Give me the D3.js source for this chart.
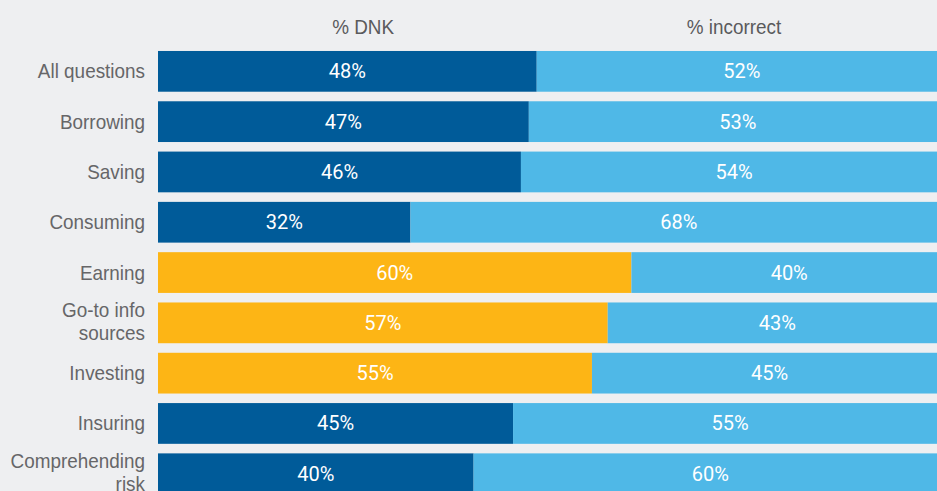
<!DOCTYPE html>
<html>
<head>
<meta charset="utf-8">
<script src="https://cdn.jsdelivr.net/npm/d3@7"></script>
<style>
  html, body { margin: 0; padding: 0; background: #eeeff1; overflow: hidden; }
  svg { display: block; }
  text { font-family: "Liberation Sans", Arial, sans-serif; }
  text.value { font-family: Roboto, "Liberation Sans", sans-serif; }
</style>
</head>
<body>
<svg id="chart" width="937" height="491"></svg>
<script>
// Share of wrong answers by topic, split into "don't know" vs. incorrect
const categories = [
  ["All questions"],
  ["Borrowing"],
  ["Saving"],
  ["Consuming"],
  ["Earning"],
  ["Go-to info", "sources"],
  ["Investing"],
  ["Insuring"],
  ["Comprehending", "risk"]
];
const dnkValues       = [48, 47, 46, 32, 60, 57, 55, 45, 40];
const incorrectValues = [52, 53, 54, 68, 40, 43, 45, 55, 60];
// rows where "don't know" outweighs incorrect answers are highlighted
const highlighted     = [false, false, false, false, true, true, true, false, false];
const seriesLabels    = ["% DNK", "% incorrect"];

const svg = d3.select("#chart");

const colDark = "#005b99", colLight = "#4fb8e7", colHi = "#fdb515";
const narrow = 0.9;   // horizontal squeeze for a condensed look

const x = d3.scaleLinear().domain([0, 100]).range([158, 947]);
const y = d3.scaleBand()
  .domain(d3.range(categories.length))
  .range([46.2, 498.9])
  .paddingInner(0.19)
  .paddingOuter(0.095);

const rows = categories.map((c, i) => ({
  i, lines: c, dnk: dnkValues[i], inc: incorrectValues[i], hi: highlighted[i]
}));

const place = (px, py, s) => `translate(${px},${py}) scale(${s},1)`;

// column headers
svg.selectAll("text.header")
  .data(seriesLabels)
  .join("text")
  .attr("class", "header")
  .attr("transform", (d, i) => place(i === 0 ? x(26) : x(73), 34, narrow))
  .attr("text-anchor", "middle")
  .attr("fill", "#5a5a5c")
  .attr("font-size", 21)
  .text(d => d);

const g = svg.selectAll("g.row")
  .data(rows)
  .join("g")
  .attr("class", "row");

// DNK segment
g.append("rect")
  .attr("x", x(0))
  .attr("y", d => y(d.i))
  .attr("width", d => x(d.dnk) - x(0))
  .attr("height", y.bandwidth())
  .attr("fill", d => d.hi ? colHi : colDark);

// incorrect segment
g.append("rect")
  .attr("x", d => x(d.dnk))
  .attr("y", d => y(d.i))
  .attr("width", d => x(d.dnk + d.inc) - x(d.dnk))
  .attr("height", y.bandwidth())
  .attr("fill", colLight);

const mid = d => y(d.i) + y.bandwidth() / 2;

// value labels
g.append("text")
  .attr("class", "value")
  .attr("transform", d => place((x(0) + x(d.dnk)) / 2, mid(d) + 7, 1))
  .attr("text-anchor", "middle")
  .attr("fill", "#ffffff")
  .attr("font-size", 20)
  .text(d => d.dnk + "%");

g.append("text")
  .attr("class", "value")
  .attr("transform", d => place((x(d.dnk) + x(d.dnk + d.inc)) / 2, mid(d) + 7, 1))
  .attr("text-anchor", "middle")
  .attr("fill", "#ffffff")
  .attr("font-size", 20)
  .text(d => d.inc + "%");

// category labels
const lab = g.append("text")
  .attr("transform", d => place(145, mid(d), narrow))
  .attr("text-anchor", "end")
  .attr("fill", "#666668")
  .attr("font-size", 21);

lab.selectAll("tspan")
  .data(d => d.lines.map((t, k) => ({ t, k, n: d.lines.length })))
  .join("tspan")
  .attr("x", 0)
  .attr("y", d => d.n === 1 ? 7 : -6 + d.k * 23)
  .text(d => d.t);
</script>
</body>
</html>
